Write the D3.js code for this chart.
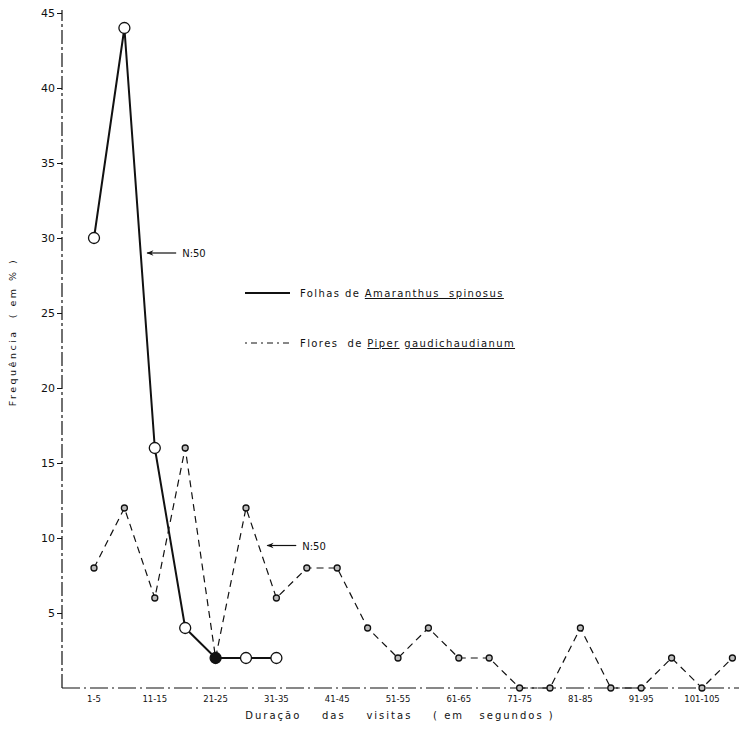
<!DOCTYPE html>
<html lang="pt">
<head>
  <meta charset="UTF-8">
  <title>Duração das visitas</title>
  <script src="https://d3js.org/d3.v7.min.js"></script>
  <style>
    body { margin: 0; background: #fff; }
    text { font-family: "DejaVu Sans", sans-serif; fill: #111; }
  </style>
</head>
<body>
  <div id="chart"></div>
  <script>
    // classes de duração (segundos)
    const categories = ["1-5", "6-10", "11-15", "16-20", "21-25", "26-30", "31-35", "36-40",
      "41-45", "46-50", "51-55", "56-60", "61-65", "66-70", "71-75", "76-80",
      "81-85", "86-90", "91-95", "96-100", "101-105", "106-110"];
    const tickLabels = ["1-5", "11-15", "21-25", "31-35", "41-45", "51-55", "61-65",
      "71-75", "81-85", "91-95", "101-105"];
    const yTicks = [5, 10, 15, 20, 25, 30, 35, 40, 45];

    // Folhas de Amaranthus spinosus (N:50)
    const amaranthus = [30, 44, 16, 4, 2, 2, 2];
    // Flores de Piper gaudichaudianum (N:50)
    const piper = [8, 12, 6, 16, 2, 12, 6, 8, 8, 4, 2, 4, 2, 2, 0, 0, 4, 0, 0, 2, 0, 2];

    const width = 739, height = 738;
    const x0 = 62, y0 = 688;

    const svg = d3.select("#chart").append("svg")
      .attr("width", width).attr("height", height);

    const x = d3.scalePoint().domain(categories).range([94, 94 + 21 * 30.4]);
    const y = d3.scaleLinear().domain([0, 45]).range([y0, 13]);

    svg.append("defs").append("marker")
      .attr("id", "arrow").attr("viewBox", "0 0 10 10")
      .attr("refX", 9).attr("refY", 5)
      .attr("markerUnits", "userSpaceOnUse")
      .attr("markerWidth", 10).attr("markerHeight", 7)
      .attr("orient", "auto")
      .append("path").attr("d", "M0,1 L10,5 L0,9 L3,5 Z").attr("fill", "#111");

    // eixos
    svg.append("line")
      .attr("x1", x0).attr("x2", x0).attr("y1", y0).attr("y2", 10)
      .attr("stroke", "#111").attr("stroke-width", 1.2)
      .attr("stroke-dasharray", "14,3,3,3");
    svg.append("line")
      .attr("x1", x0).attr("x2", width).attr("y1", y0).attr("y2", y0)
      .attr("stroke", "#111").attr("stroke-width", 1.2)
      .attr("stroke-dasharray", "18,4,2,4");

    const yAxis = d3.axisLeft(y).tickValues(yTicks).tickSize(5).tickPadding(2);
    svg.append("g").attr("transform", `translate(${x0},0)`).call(yAxis)
      .call(g => g.select(".domain").remove())
      .call(g => g.selectAll("line").attr("stroke", "#111"))
      .call(g => g.selectAll("text").style("font-size", "11px").attr("fill", "#111"));

    svg.append("g").selectAll("text").data(tickLabels).join("text")
      .attr("x", d => x(d)).attr("y", y0 + 14)
      .attr("text-anchor", "middle").style("font-size", "8.5px")
      .text(d => d);

    // títulos
    svg.append("text")
      .attr("transform", "rotate(-90)")
      .attr("x", -332).attr("y", 16)
      .attr("text-anchor", "middle").style("font-size", "9.5px")
      .style("letter-spacing", "2.5px").attr("xml:space", "preserve")
      .text("Frequência  ( em % )");
    svg.append("text")
      .attr("x", 400).attr("y", 719)
      .attr("text-anchor", "middle").style("font-size", "10px")
      .style("letter-spacing", "2px").attr("xml:space", "preserve")
      .text("Duração    das    visitas    ( em   segundos )");

    // linhas
    const line = d3.line().x((d, i) => x(categories[i])).y(d => y(d));

    svg.append("path").datum(piper)
      .attr("d", line).attr("fill", "none")
      .attr("stroke", "#111").attr("stroke-width", 1.2)
      .attr("stroke-dasharray", "7,5");
    svg.append("path").datum(amaranthus)
      .attr("d", line).attr("fill", "none")
      .attr("stroke", "#111").attr("stroke-width", 2);

    svg.append("g").selectAll("circle").data(piper).join("circle")
      .attr("cx", (d, i) => x(categories[i])).attr("cy", d => y(d))
      .attr("r", 3).attr("fill", "#bbb")
      .attr("stroke", "#111").attr("stroke-width", 1.3);

    svg.append("g").selectAll("circle").data(amaranthus).join("circle")
      .attr("cx", (d, i) => x(categories[i])).attr("cy", d => y(d))
      .attr("r", 5.5)
      .attr("fill", (d, i) => i === 4 ? "#111" : "#fff")
      .attr("stroke", "#111").attr("stroke-width", 1.3);

    // anotações N:50
    const notes = [
      { at: 1.65, v: 29, text: "N:50" },
      { at: 5.6, v: 9.5, text: "N:50" }
    ];
    notes.forEach(n => {
      const px = x(categories[0]) + n.at * 30.4;
      svg.append("line")
        .attr("x1", px + 32).attr("x2", px + 3)
        .attr("y1", y(n.v)).attr("y2", y(n.v))
        .attr("stroke", "#111").attr("stroke-width", 1.2)
        .attr("marker-end", "url(#arrow)");
      svg.append("text")
        .attr("x", px + 38).attr("y", y(n.v) + 4)
        .style("font-size", "10px").text(n.text);
    });

    // legenda
    const legend = svg.append("g");
    legend.append("line").attr("x1", 245).attr("x2", 290).attr("y1", 293).attr("y2", 293)
      .attr("stroke", "#111").attr("stroke-width", 2);
    legend.append("line").attr("x1", 245).attr("x2", 290).attr("y1", 343).attr("y2", 343)
      .attr("stroke", "#111").attr("stroke-width", 1).attr("stroke-dasharray", "2,4,6,4");

    const t1 = legend.append("text").attr("x", 300).attr("y", 297)
      .style("font-size", "10px").style("letter-spacing", "1.4px").attr("xml:space", "preserve");
    t1.append("tspan").text("Folhas de ");
    t1.append("tspan").attr("text-decoration", "underline").text("Amaranthus  spinosus");

    const t2 = legend.append("text").attr("x", 300).attr("y", 347)
      .style("font-size", "10px").style("letter-spacing", "1.4px").attr("xml:space", "preserve");
    t2.append("tspan").text("Flores  de ");
    t2.append("tspan").attr("text-decoration", "underline").text("Piper");
    t2.append("tspan").text(" ");
    t2.append("tspan").attr("text-decoration", "underline").text("gaudichaudianum");
  </script>
</body>
</html>
